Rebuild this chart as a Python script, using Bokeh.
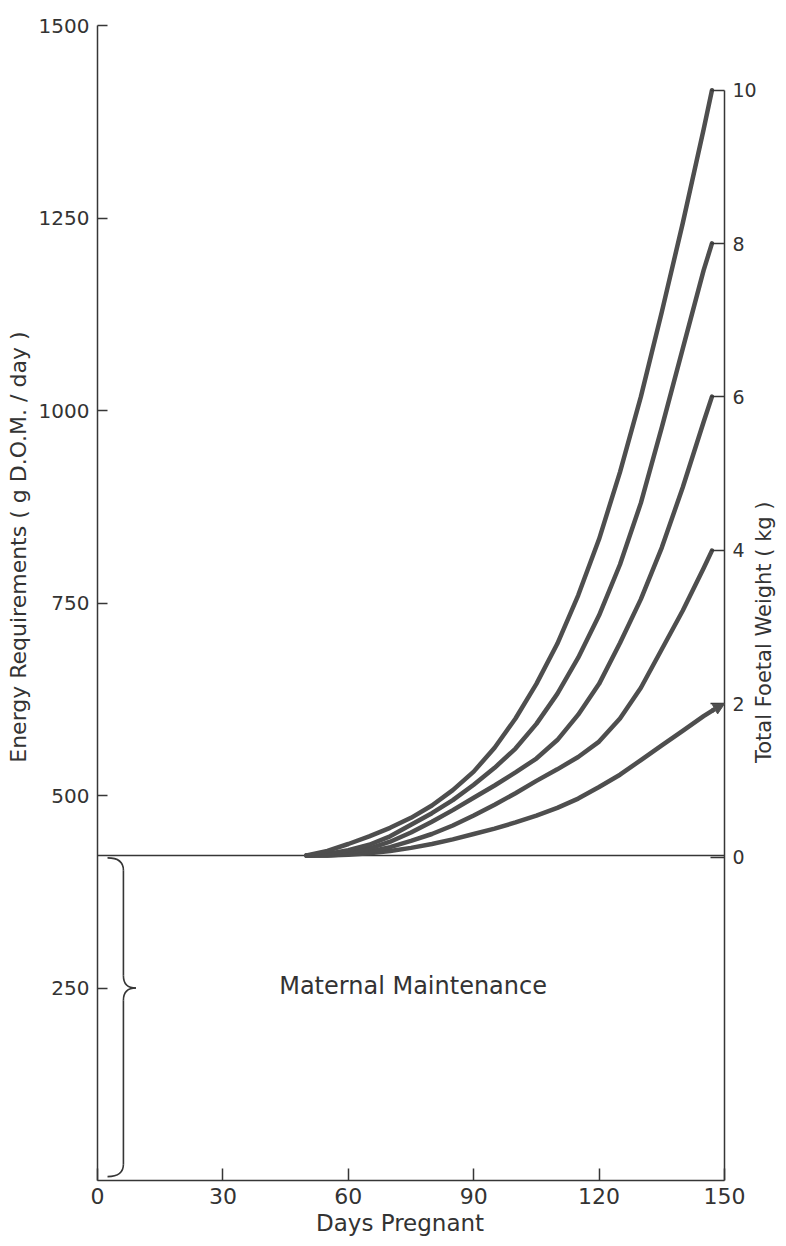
import math
from bokeh.plotting import figure
from bokeh.models import Range1d, LinearAxis, FixedTicker, Arrow, NormalHead, Label, Title
from bokeh.core.properties import value
from bokeh.embed import file_html
from bokeh.resources import INLINE

# ---------------- data ----------------
days = [50, 55, 60, 65, 70, 75, 80, 85, 90, 95, 100, 105, 110, 115, 120, 125, 130, 135, 140, 145, 147]
energy_2kg = [422, 422, 423, 425, 428, 432, 437, 443, 450, 457, 465, 474, 484, 496, 511, 527, 546, 565, 584, 603, 610]
energy_4kg = [422, 422, 424, 427, 433, 441, 450, 461, 474, 488, 503, 519, 534, 550, 570, 600, 640, 690, 740, 795, 818]
energy_6kg = [422, 423, 426, 431, 440, 452, 466, 481, 497, 513, 530, 548, 572, 605, 645, 698, 755, 822, 900, 985, 1018]
energy_8kg = [422, 424, 429, 436, 447, 462, 477, 494, 514, 536, 561, 593, 632, 679, 734, 800, 880, 978, 1080, 1182, 1217]
energy_10kg = [422, 428, 437, 447, 458, 471, 487, 507, 531, 562, 600, 645, 697, 760, 833, 920, 1018, 1128, 1243, 1365, 1416]
curves = [energy_2kg, energy_4kg, energy_6kg, energy_8kg, energy_10kg]

maintenance_span = [0, 150]
maintenance_energy = 422
brace_tip_energy = 250

x_ticks = [0, 30, 60, 90, 120, 150]
y_ticks = [250, 500, 750, 1000, 1250, 1500]
weight_ticks = [0, 2, 4, 6, 8, 10]
arrow_weight = 2
# right axis: energy = weight_zero_energy + energy_per_kg * kg
weight_zero_energy = 420
energy_per_kg = 99.6

# ---------------- layout ----------------
W, H = 784, 1244
LEFT, TOP = 97, 25
RIGHT = 0
BOTTOM = H - 1180
X0, X1, Y0, Y1 = maintenance_span[0], maintenance_span[-1], 0, 1500
px_per_day = (724 - LEFT) / (X1 - X0)          # 150 days end at x = 724 px
X_END = X1 + (W - RIGHT - 724) / px_per_day    # frame runs on to the right edge

INK = "#363636"
CURVE = "#4e4e4e"
TXT = "#333333"
FONT = "DejaVu Sans"

p = figure(width=W, height=H, x_range=Range1d(X0, X_END), y_range=Range1d(Y0, Y1),
           output_backend="svg", toolbar_location=None,
           min_border_left=LEFT, min_border_right=RIGHT,
           min_border_top=TOP, min_border_bottom=BOTTOM)
p.xgrid.visible = False
p.ygrid.visible = False
p.outline_line_color = None
p.background_fill_color = "white"
p.border_fill_color = "white"

xax = p.xaxis[0]
yax = p.yaxis[0]
xax.ticker = FixedTicker(ticks=x_ticks)
xax.bounds = (X0, X1)
yax.ticker = FixedTicker(ticks=y_ticks)

kg_start = (Y0 - weight_zero_energy) / energy_per_kg
kg_end = (Y1 - weight_zero_energy) / energy_per_kg
p.extra_y_ranges = {"kg": Range1d(kg_start, kg_end)}
rax = LinearAxis(y_range_name="kg", ticker=FixedTicker(ticks=weight_ticks),
                 bounds=(kg_start, max(weight_ticks)), fixed_location=X1)
p.add_layout(rax, "right")

for ax in (xax, yax, rax):
    ax.minor_tick_line_color = None
    ax.major_tick_out = 0
    ax.axis_line_color = INK
    ax.axis_line_width = 1.5
    ax.major_tick_line_color = INK
    ax.major_tick_line_width = 1.5
    ax.major_label_text_font = FONT
    ax.major_label_text_color = TXT

yax.major_tick_in = 10
yax.major_label_text_font_size = "20px"
yax.major_label_standoff = 8

xax.major_tick_in = 12
xax.major_label_text_font_size = "22px"
xax.major_label_standoff = 7

rax.major_tick_in = 14
rax.major_label_text_font_size = "19px"
rax.major_label_standoff = 8

# x axis title, centred where the original has it
bottom_label = "Days Pregnant"
bottom_label_px = 23
bottom_label_len = 7.35 * bottom_label_px
bottom_label_center = 400 - LEFT
p.add_layout(Title(text=bottom_label, align="left",
                   offset=bottom_label_center - bottom_label_len / 2,
                   text_font=FONT, text_font_size=f"{bottom_label_px}px",
                   text_font_style="normal", text_color=TXT,
                   standoff=4, vertical_align="middle"), "below")

# right axis title, reading bottom to top as in the original
right_label = "Total Foetal Weight ( kg )"
p.text(x=[X1 + 39 / px_per_day], y=[712], text=[right_label], angle=math.pi / 2,
       text_align="center", text_baseline="middle",
       text_font=value(FONT), text_font_size="21px", text_color=TXT)

# left axis title (placed as a side title so it can be shifted along the axis)
left_label = "Energy Requirements ( g D.O.M. / day )"
left_label_px = 22
left_label_len = 19.75 * left_label_px          # approx. rendered length
left_label_center_from_bottom = 1180 - 545     # centre of the label in the reference
p.add_layout(Title(text=left_label, align="left",
                   offset=left_label_center_from_bottom - left_label_len / 2,
                   text_font=FONT, text_font_size=f"{left_label_px}px",
                   text_font_style="normal", text_color=TXT,
                   standoff=8, vertical_align="middle"), "left")

# ---------------- marks ----------------
p.line(maintenance_span, [maintenance_energy] * len(maintenance_span),
       line_color=INK, line_width=1.6)

for e in curves:
    p.line(days, e, line_color=CURVE, line_width=4.5, line_cap="round", line_join="round")

p.add_layout(Arrow(end=NormalHead(size=11, fill_color=CURVE, line_color=CURVE, line_width=1),
                   x_start=days[-1], y_start=energy_2kg[-1],
                   x_end=maintenance_span[-1],
                   y_end=weight_zero_energy + energy_per_kg * arrow_weight,
                   line_color=CURVE, line_width=4.5))

# curly brace for maternal maintenance
top = maintenance_energy - 3
bot = 5
tip = brace_tip_energy
hk = 16
xe, xs, xt = 2.4, 6.2, 9.2
p.quadratic(x0=[xe, xs, xt, xs], y0=[top, tip + hk, tip, bot + hk],
            x1=[xs, xt, xs, xe], y1=[top - hk, tip, tip - hk, bot],
            cx=[xs, xs, xs, xs], cy=[top, tip, tip, bot],
            line_color=INK, line_width=1.6)
p.segment(x0=[xs, xs], y0=[top - hk, tip - hk], x1=[xs, xs], y1=[tip + hk, bot + hk],
          line_color=INK, line_width=1.6)

p.add_layout(Label(x=75.5, y=253, text="Maternal Maintenance",
                   text_align="center", text_baseline="middle",
                   text_font=FONT, text_font_size="24px", text_color=TXT))

open("out.html", "w").write(file_html(p, INLINE))
